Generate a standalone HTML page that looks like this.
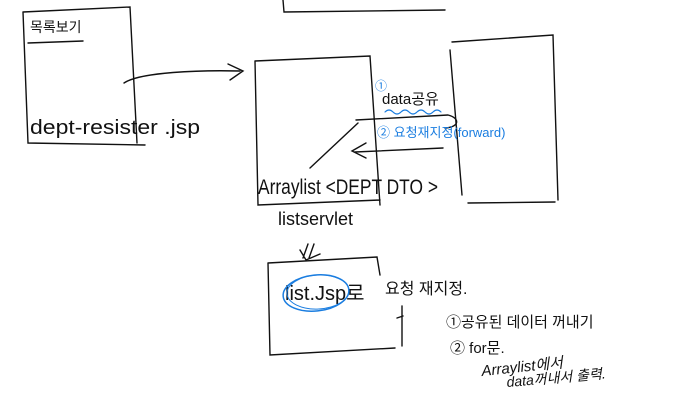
<!DOCTYPE html>
<html><head><meta charset="utf-8"><style>
html,body{margin:0;padding:0;background:#fff;width:675px;height:403px;overflow:hidden}
svg{display:block}
text{font-family:"Liberation Sans","Noto Sans CJK KR",sans-serif;fill:#111}
.b{fill:#1a7de0}
</style></head><body>
<svg width="675" height="403" viewBox="0 0 675 403" fill="none" stroke="#111" stroke-width="1.4" stroke-linecap="round">
<path d="M283 0 L284 12 L445 10"/>
<path d="M23 12 L130 7 L137 143 M23 12 L28 143 L145 145"/>
<path d="M28 43 L83 41"/>
<text x="30" y="32" font-size="14" stroke="none">목록보기</text>
<text x="30" y="134" font-size="20" stroke="none" textLength="170" lengthAdjust="spacingAndGlyphs">dept-resister .jsp</text>
<path d="M124 83 C140 72 200 70 240 71"/>
<path d="M228 64 L243 71 L230 80"/>
<path d="M255 61 L370 56 L380 205 M255 61 L258 205 L380 200"/>
<text x="258" y="194" font-size="21" stroke="none" textLength="180" lengthAdjust="spacingAndGlyphs">Arraylist &lt;DEPT DTO &gt;</text>
<text x="278" y="225" font-size="18" stroke="none">listservlet</text>
<path d="M452 42 L553 35 L558 200 M450 50 L462 195 M468 203 L555 202"/>
<text x="375" y="90" font-size="12" class="b" stroke="none">①</text>
<text x="382" y="104" font-size="15" stroke="none">data공유</text>
<path d="M385 112 q4 -4 8 0 q4 4 8 0 q4 -4 8 0 q4 4 8 0 q4 -4 8 0 q4 4 8 0 q4 -4 8 0" stroke="#1a7de0" stroke-width="1.2"/>
<path d="M356 120 L448 115 C460 118 460 127 445 128"/>
<path d="M358 123 L310 168"/>
<text x="377" y="137" font-size="13" class="b" stroke="none">② 요청재지정(forward)</text>
<path d="M443 148 L355 152"/>
<path d="M366 143 L352 151 L366 158"/>
<path d="M308 244 L303 258 M314 244 L309 258 M300 250 L306 260 L320 254"/>
<path d="M268 263 L377 257 L380 275 M268 263 L270 355 L395 348 M402 306 L402 346 M397 318 L403 316"/>
<text x="285" y="300" font-size="20" stroke="none">list.Jsp로</text>
<ellipse cx="316" cy="293" rx="33" ry="18" stroke="#1a7de0" stroke-width="1.5" transform="rotate(-6 316 293)"/>
<ellipse cx="318" cy="292" rx="31" ry="17" stroke="#1a7de0" stroke-width="1" transform="rotate(-3 318 292)"/>
<text x="385" y="294" font-size="16" stroke="none">요청 재지정.</text>
<text x="446" y="327" font-size="15" stroke="none">①공유된 데이터 꺼내기</text>
<text x="450" y="353" font-size="15" stroke="none">② for문.</text>
<text x="482" y="376" font-size="15" stroke="none" transform="rotate(-6 482 376)" font-style="italic">Arraylist에서</text>
<text x="507" y="387" font-size="14" stroke="none" transform="rotate(-5 507 387)" font-style="italic">data꺼내서 출력.</text>
</svg>
</body></html>
